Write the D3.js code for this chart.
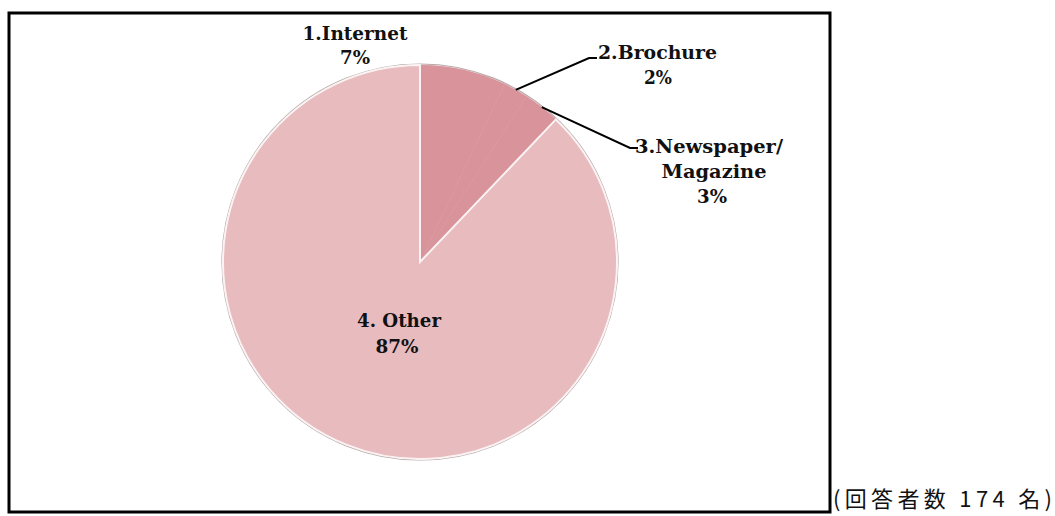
<!DOCTYPE html>
<html>
<head>
<meta charset="utf-8">
<script src="https://cdn.jsdelivr.net/npm/d3@7"></script>
<style>
  body { margin: 0; background: #fff; }
  svg { display: block; }
</style>
</head>
<body>
<div id="chart"></div>
<script>
// data
const categories = ["1.Internet", "2.Brochure", "3.Newspaper/Magazine", "4. Other"];
const values = [7, 2, 3, 87];
const colors = ["#d8939b", "#d8939b", "#d8939b", "#e8bbbf"];
const respondents = "(回答者数 174 名)";

const width = 1055, height = 516;
const cx = 420, cy = 262, r = 197;

const svg = d3.select("#chart").append("svg")
    .attr("width", width)
    .attr("height", height);

// frame
svg.append("rect")
    .attr("x", 9).attr("y", 13)
    .attr("width", 821).attr("height", 499)
    .attr("fill", "none")
    .attr("stroke", "#000")
    .attr("stroke-width", 3);

const pie = d3.pie().sort(null).value(d => d);
const arcs = pie(values);
const arc = d3.arc().innerRadius(0).outerRadius(r);

const g = svg.append("g").attr("transform", `translate(${cx},${cy})`);

// soft shadow ring under the pie
g.append("circle")
    .attr("r", r + 1)
    .attr("fill", "none")
    .attr("stroke", "#b9a9a9")
    .attr("stroke-width", 1.2);

g.selectAll("path.slice")
    .data(arcs)
    .join("path")
    .attr("class", "slice")
    .attr("d", arc)
    .attr("fill", (d, i) => colors[i])
    .attr("stroke", (d, i) => i === 3 ? "#fbf3f3" : colors[i])
    .attr("stroke-width", (d, i) => i === 3 ? 2 : 0.5);

const font = "'DejaVu Serif', 'Liberation Serif', serif";
const pct = values.map(v => v + "%");

// each line: text, x, baseline y, width in the reference
function label(lines) {
    lines.forEach(s => {
        svg.append("text")
            .attr("x", s.x).attr("y", s.y)
            .attr("text-anchor", s.anchor || "middle")
            .style("font-family", font)
            .attr("font-size", 18)
            .attr("font-weight", "bold")
            .attr("fill", "#111")
            .attr("textLength", s.w)
            .attr("lengthAdjust", "spacingAndGlyphs")
            .text(s.text);
    });
}

// leader lines from slice edges
function edgePoint(a) {
    return [cx + r * Math.sin(a), cy - r * Math.cos(a)];
}
const line = d3.line();
const bAng = (arcs[1].startAngle + arcs[1].endAngle) / 2;
const nAng = (arcs[2].startAngle + arcs[2].endAngle) / 2;
const bp = edgePoint(bAng), np = edgePoint(nAng);
svg.append("path")
    .attr("d", line([bp, [589, 58], [597, 58]]))
    .attr("fill", "none").attr("stroke", "#000").attr("stroke-width", 2);
svg.append("path")
    .attr("d", line([np, [630, 148], [638, 148]]))
    .attr("fill", "none").attr("stroke", "#000").attr("stroke-width", 2);

label([
    {text: categories[0], x: 355, y: 40, w: 105},
    {text: pct[0], x: 355, y: 64, w: 30},
    {text: categories[1], x: 598, y: 59, w: 119, anchor: "start"},
    {text: pct[1], x: 658, y: 84, w: 28},
    {text: "3.Newspaper/", x: 635, y: 153, w: 148, anchor: "start"},
    {text: "Magazine", x: 714, y: 178, w: 105},
    {text: pct[2], x: 712, y: 203, w: 30},
    {text: categories[3], x: 399, y: 327, w: 84},
    {text: pct[3], x: 397, y: 353, w: 43}
]);

svg.append("text")
    .attr("x", 833).attr("y", 507)
    .style("font-family", "'Noto Sans CJK JP', sans-serif")
    .attr("font-size", 22)
    .attr("fill", "#111")
    .attr("textLength", 219)
    .attr("lengthAdjust", "spacing")
    .text(respondents);
</script>
</body>
</html>
